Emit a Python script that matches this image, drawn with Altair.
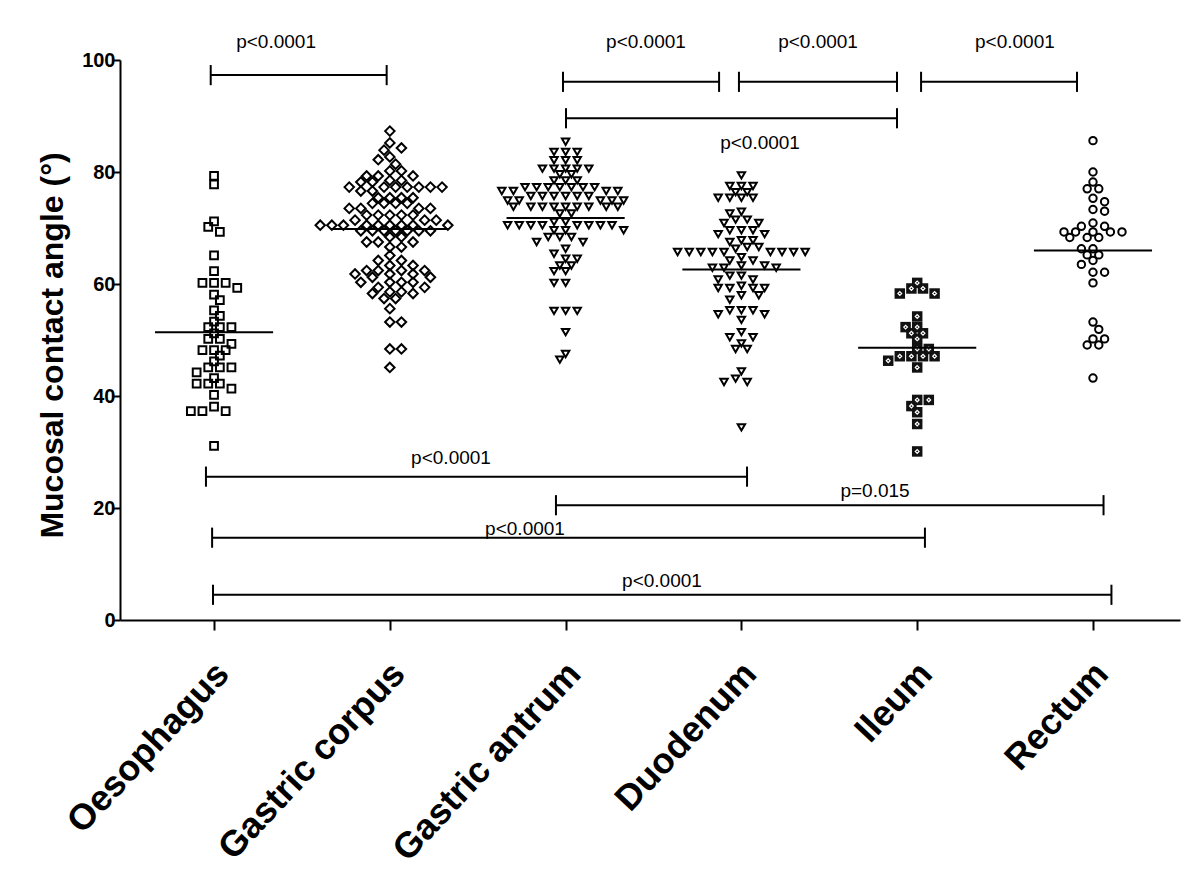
import altair as alt
import pandas as pd

groups = ["Oesophagus", "Gastric corpus", "Gastric antrum", "Duodenum", "Ileum", "Rectum"]

oesophagus = [79.3, 77.8, 71.2, 70.2, 69.3, 65.1, 62.3, 60.2, 60.2, 60.2, 59.3, 58.1, 57.1, 55.3,
              54.3, 53.3, 52.3, 52.3, 52.3, 51.2, 50.2, 50.2, 49.3, 48.2, 48.2, 48.2, 47.2, 46.2,
              45.1, 45.1, 45.1, 44.2, 43.2, 42.2, 42.2, 42.2, 41.3, 40.2, 38.1, 37.3, 37.3, 37.3, 31.1]

gastric_corpus = ([87.3, 85.2, 84.3, 83.9, 82.7, 82.2, 81.4, 80.2, 80.2, 79.3, 79.3, 79.3, 78.5, 78.5,
                   78.2, 78.2] + [77.3] * 7 + [76.6] * 2 + [75.4] * 4 + [74.4] * 4 + [73.5] * 4 +
                  [72.3] * 5 + [71.4] * 3 + [70.5] * 9 + [69.5] * 7 + [68.4] * 2 + [67.5] * 3 +
                  [66.6] * 2 + [65.1] + [64.2] * 2 + [63.3] * 2 + [62.4] * 4 + [61.8] * 3 +
                  [61.2] * 2 + [60.3] * 4 + [59.4] * 2 + [58.6] * 2 + [58.3] * 2 + [57.4] * 2 +
                  [55.6] + [53.2] * 2 + [48.4] * 2 + [45.1])

gastric_antrum = ([85.4] + [83.6] * 3 + [82.1] * 3 + [80.6] * 5 + [79.6] * 2 + [78.5] * 3 +
                  [77.3] * 7 + [76.6] * 4 + [75.7] * 6 + [74.9] * 5 + [73.8] * 9 + [72.6] * 2 +
                  [71.1] * 2 + [70.5] * 8 + [69.6] * 3 + [68.4] * 3 + [67.5] * 2 + [66.3] +
                  [65.4] + [64.5] * 2 + [63.3] * 2 + [62.3] * 2 + [60.2] * 2 + [55.2] * 3 +
                  [51.4] + [47.5, 46.5])

duodenum = ([79.4] + [77.5] * 3 + [76.4] * 2 + [75.4] * 4 + [72.9, 72.6] + [71.5] * 2 +
            [70.9] * 2 + [69.6] * 3 + [68.9] * 2 + [67.8] * 2 + [67.5] + [66.6] * 2 + [66.3] +
            [65.7] * 9 + [64.8] + [64.2] * 2 + [63.3] * 2 + [62.9] * 3 + [61.5] * 2 + [60.8] * 2 +
            [59.7] + [59.3] * 4 + [58.0] * 2 + [57.2] + [55.3] * 3 + [54.6] * 2 + [53.6] + [51.4] +
            [50.5] * 2 + [49.4] + [48.4] * 2 + [44.4, 43.1] + [42.5] * 2 + [34.4])

ileum = ([60.2] + [59.2] * 2 + [58.3] * 2 + [54.2] + [52.3] * 2 + [51.2] * 2 + [50.2] +
         [48.4] * 2 + [47.1] * 4 + [46.3, 45.1] + [39.3] * 2 + [38.2, 37.1, 35.0, 30.1])

rectum = ([85.6, 80.0, 78.2] + [77.0] * 2 + [75.3, 74.7, 73.3, 73.0, 70.9] + [70.3] * 2 +
          [69.3] * 5 + [68.3] * 3 + [66.3] * 2 + [65.2] * 2 + [64.2, 63.5] + [62.1] * 2 +
          [60.2, 53.2, 51.9] + [50.2] * 2 + [49.1] * 2 + [43.2])

group_means = [51.4, 69.8, 71.8, 62.6, 48.6, 66.0]

# significance brackets (x in category index units, y in degrees)
br_x1 = [-0.019, 1.985, 2.986, 4.022, 2.002, -0.046, 1.945, -0.011, -0.006]
br_x2 = [0.982, 2.873, 3.885, 4.909, 3.885, 3.032, 5.060, 4.044, 5.105]
br_y = [97.3, 96.1, 96.1, 96.1, 89.6, 25.6, 20.5, 14.7, 4.5]
p_text = ["p<0.0001", "p<0.0001", "p<0.0001", "p<0.0001", "p<0.0001",
          "p<0.0001", "p=0.015", "p<0.0001", "p<0.0001"]
p_x = [0.353, 2.457, 3.436, 4.556, 3.106, 1.348, 3.76, 1.769, 2.548]
p_y = [103.3, 103.3, 103.3, 103.3, 85.2, 29.0, 23.0, 16.3, 7.0]

# ---------------------------------------------------------------------------
W, H = 1060, 560
XMIN, XMAX = -0.535, 5.495
PX_X = W / (XMAX - XMIN)
PX_Y = H / 100.0


def swarm(vals, step=5.8, dist=8.0):
    placed = []
    offs = [0.0] * len(vals)
    order = sorted(range(len(vals)), key=lambda i: -vals[i])
    for n, i in enumerate(order):
        y = vals[i] * PX_Y
        chosen = None
        for k in range(0, 80):
            if k == 0:
                cands = [0.0]
            else:
                cands = [k * step, -k * step] if n % 2 == 0 else [-k * step, k * step]
            for c in cands:
                if all(((c - px) ** 2 + (y - py) ** 2) >= dist ** 2 for px, py in placed):
                    chosen = c
                    break
            if chosen is not None:
                break
        placed.append((chosen, y))
        offs[i] = chosen / PX_X
    return offs


series = [oesophagus, gastric_corpus, gastric_antrum, duodenum, ileum, rectum]
rows = []
for gi, vals in enumerate(series):
    offs = swarm(vals)
    for v, o in zip(vals, offs):
        rows.append({"g": gi, "x": gi + o, "v": v})
pts = pd.DataFrame(rows)

xscale = alt.Scale(domain=[XMIN, XMAX], nice=False, zero=False)
yscale = alt.Scale(domain=[0, 100], nice=False, zero=True)

label_expr = ("datum.value == 0 ? 'Oesophagus' : datum.value == 1 ? 'Gastric corpus' : "
              "datum.value == 2 ? 'Gastric antrum' : datum.value == 3 ? 'Duodenum' : "
              "datum.value == 4 ? 'Ileum' : 'Rectum'")

x_axis = alt.Axis(values=[0, 1, 2, 3, 4, 5], labelExpr=label_expr, title=None, grid=False,
                  labelAngle=-47, labelAlign="right", labelBaseline="top", labelFontSize=36,
                  labelFont="Liberation Sans", labelFontWeight="bold", labelColor="black",
                  labelPadding=26, labelOffset=-4, labelOverlap=False, labelFlush=False,
                  labelBound=False, labelLimit=0,
                  tickSize=10, tickWidth=2, tickColor="black", domainColor="black", domainWidth=2)

y_axis = alt.Axis(values=[0, 20, 40, 60, 80, 100], title="Mucosal contact angle (°)", grid=False,
                  labelFontSize=20, labelFont="Liberation Sans", labelFontWeight="bold",
                  labelColor="black", labelPadding=-2, tickSize=7, tickWidth=2, tickColor="black",
                  domainColor="black", domainWidth=2, titleFontSize=32, titleFont="Liberation Sans",
                  titleFontWeight="bold", titleColor="black", titleAngle=-90, titleX=-68,
                  titleY=285, titleAlign="center", titleBaseline="middle")


def pts_layer(gi, shape, size, filled=False, color="black", sw=2.0, axes=False):
    d = pts[pts.g == gi]
    m = alt.Chart(d).mark_point(shape=shape, size=size, filled=filled, color=color,
                                strokeWidth=sw, opacity=1)
    if axes:
        return m.encode(x=alt.X("x:Q", scale=xscale, axis=x_axis),
                        y=alt.Y("v:Q", scale=yscale, axis=y_axis))
    return m.encode(x=alt.X("x:Q", scale=xscale), y=alt.Y("v:Q", scale=yscale))


layers = [
    pts_layer(0, "square", 60, axes=True),
    pts_layer(1, "diamond", 90),
    pts_layer(2, "triangle-down", 55),
    pts_layer(3, "triangle-down", 55),
    pts_layer(4, "square", 110, filled=True, color="#111111", sw=0),
    pts_layer(4, "diamond", 14, color="white", sw=1.2),
    pts_layer(5, "circle", 55),
]

means = pd.DataFrame({"g": list(range(6)), "m": group_means})
means["x1"] = means["g"] - 0.336
means["x2"] = means["g"] + 0.336
mean_layer = alt.Chart(means).mark_rule(color="black", strokeWidth=2).encode(
    x=alt.X("x1:Q", scale=xscale), x2="x2:Q", y=alt.Y("m:Q", scale=yscale))

br = pd.DataFrame({"x1": br_x1, "x2": br_x2, "y": br_y})
br_layer = alt.Chart(br).mark_rule(color="black", strokeWidth=2).encode(
    x=alt.X("x1:Q", scale=xscale), x2="x2:Q", y=alt.Y("y:Q", scale=yscale))

tick_rows = []
for a, b, y in zip(br_x1, br_x2, br_y):
    tick_rows.append({"x": a, "y1": y - 1.8, "y2": y + 1.8})
    tick_rows.append({"x": b, "y1": y - 1.8, "y2": y + 1.8})
ticks = pd.DataFrame(tick_rows)
tick_layer = alt.Chart(ticks).mark_rule(color="black", strokeWidth=2).encode(
    x=alt.X("x:Q", scale=xscale), y=alt.Y("y1:Q", scale=yscale), y2="y2:Q")

ptxt = pd.DataFrame({"x": p_x, "y": p_y, "t": p_text})
txt_layer = alt.Chart(ptxt).mark_text(font="Liberation Sans", fontSize=19, color="black",
                                      align="center", baseline="middle").encode(
    x=alt.X("x:Q", scale=xscale), y=alt.Y("y:Q", scale=yscale), text="t:N")

chart = alt.layer(*layers, mean_layer, br_layer, tick_layer, txt_layer).properties(
    width=W, height=H,
    background="white",
    autosize=alt.AutoSizeParams(type="none"),
    padding={"left": 112, "top": 52, "right": 12, "bottom": 263},
).configure_view(stroke=None, strokeWidth=0)

chart.save("out.html", embed_options={"renderer": "svg", "actions": False})
